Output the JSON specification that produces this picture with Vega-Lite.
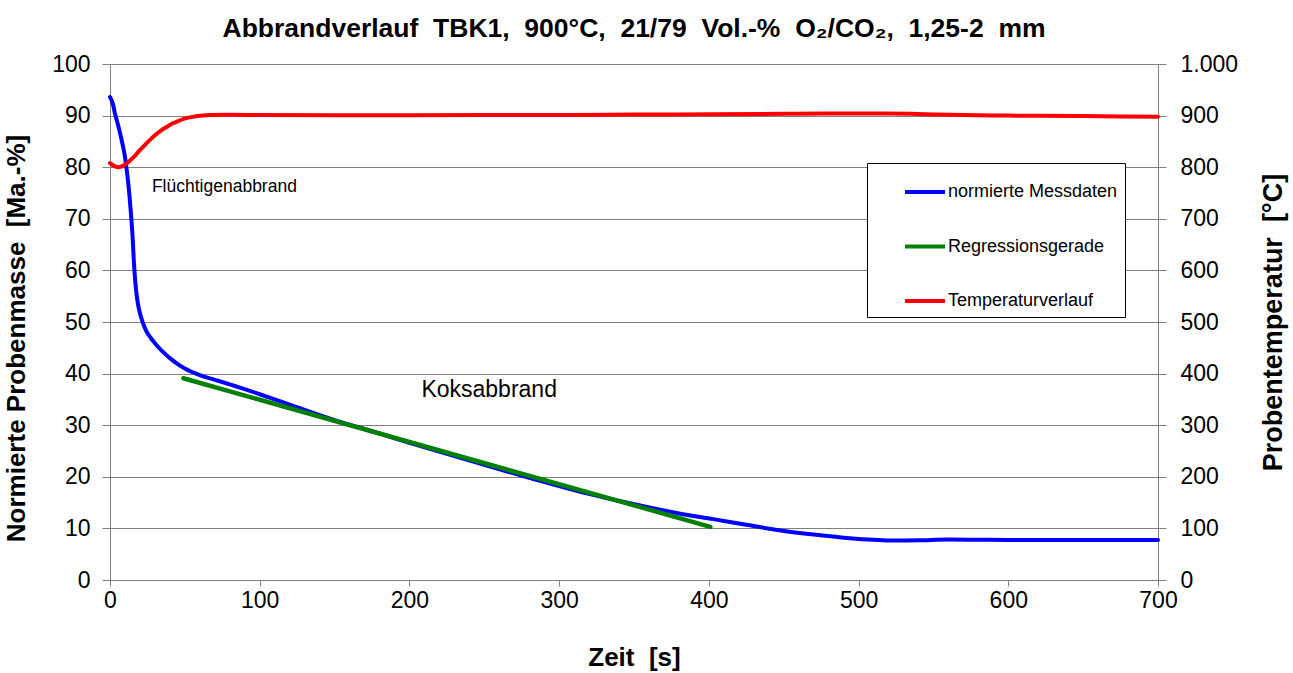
{
  "$schema": "https://vega.github.io/schema/vega-lite/v6.json",
  "width": 1048,
  "height": 516,
  "autosize": {"type": "none"},
  "padding": {"left": 110, "top": 64, "right": 135, "bottom": 93},
  "background": "white",
  "title": {
    "text": "Abbrandverlauf\u00a0 TBK1,\u00a0 900°C,\u00a0 21/79\u00a0 Vol.-%\u00a0 O₂/CO₂,\u00a0 1,25-2\u00a0 mm",
    "font": "Liberation Sans",
    "fontSize": 26.5,
    "fontWeight": "bold",
    "color": "black",
    "anchor": "middle",
    "offset": 11
  },
  "config": {
    "view": {"stroke": null},
    "font": "Liberation Sans",
    "axis": {
      "domainColor": "#808080",
      "tickColor": "#808080",
      "gridColor": "#808080",
      "gridWidth": 1,
      "labelFont": "Liberation Sans",
      "labelFontSize": 23,
      "labelColor": "black",
      "titleFont": "Liberation Sans",
      "titleFontSize": 25,
      "titleFontWeight": "bold",
      "titleColor": "black"
    }
  },
  "datasets": {
    "mass": [
      {"t": 0, "v": 93.6, "series": "normierte Messdaten"},
      {"t": 2, "v": 92.2, "series": "normierte Messdaten"},
      {"t": 3.3, "v": 90.4, "series": "normierte Messdaten"},
      {"t": 5, "v": 88.6, "series": "normierte Messdaten"},
      {"t": 6.7, "v": 86.6, "series": "normierte Messdaten"},
      {"t": 8.5, "v": 84.3, "series": "normierte Messdaten"},
      {"t": 10, "v": 82, "series": "normierte Messdaten"},
      {"t": 11, "v": 79.8, "series": "normierte Messdaten"},
      {"t": 12.2, "v": 76.9, "series": "normierte Messdaten"},
      {"t": 13, "v": 74.5, "series": "normierte Messdaten"},
      {"t": 13.8, "v": 71.7, "series": "normierte Messdaten"},
      {"t": 14.5, "v": 69, "series": "normierte Messdaten"},
      {"t": 15.1, "v": 66.5, "series": "normierte Messdaten"},
      {"t": 16, "v": 61.4, "series": "normierte Messdaten"},
      {"t": 16.7, "v": 58.5, "series": "normierte Messdaten"},
      {"t": 17.4, "v": 56.2, "series": "normierte Messdaten"},
      {"t": 18.5, "v": 53.8, "series": "normierte Messdaten"},
      {"t": 20, "v": 51.7, "series": "normierte Messdaten"},
      {"t": 22, "v": 49.8, "series": "normierte Messdaten"},
      {"t": 24.5, "v": 48.1, "series": "normierte Messdaten"},
      {"t": 27, "v": 47, "series": "normierte Messdaten"},
      {"t": 30, "v": 45.9, "series": "normierte Messdaten"},
      {"t": 35, "v": 44.3, "series": "normierte Messdaten"},
      {"t": 40, "v": 43, "series": "normierte Messdaten"},
      {"t": 45, "v": 41.9, "series": "normierte Messdaten"},
      {"t": 50, "v": 41, "series": "normierte Messdaten"},
      {"t": 60, "v": 39.7, "series": "normierte Messdaten"},
      {"t": 70, "v": 38.8, "series": "normierte Messdaten"},
      {"t": 80, "v": 37.9, "series": "normierte Messdaten"},
      {"t": 100, "v": 36, "series": "normierte Messdaten"},
      {"t": 120, "v": 34, "series": "normierte Messdaten"},
      {"t": 150, "v": 31, "series": "normierte Messdaten"},
      {"t": 180, "v": 28.4, "series": "normierte Messdaten"},
      {"t": 200, "v": 26.6, "series": "normierte Messdaten"},
      {"t": 250, "v": 22.3, "series": "normierte Messdaten"},
      {"t": 280, "v": 19.8, "series": "normierte Messdaten"},
      {"t": 314, "v": 17.1, "series": "normierte Messdaten"},
      {"t": 330, "v": 16, "series": "normierte Messdaten"},
      {"t": 358, "v": 14.2, "series": "normierte Messdaten"},
      {"t": 380, "v": 12.9, "series": "normierte Messdaten"},
      {"t": 403, "v": 11.8, "series": "normierte Messdaten"},
      {"t": 425, "v": 10.7, "series": "normierte Messdaten"},
      {"t": 448, "v": 9.6, "series": "normierte Messdaten"},
      {"t": 470, "v": 8.8, "series": "normierte Messdaten"},
      {"t": 490, "v": 8.2, "series": "normierte Messdaten"},
      {"t": 514, "v": 7.75, "series": "normierte Messdaten"},
      {"t": 525, "v": 7.65, "series": "normierte Messdaten"},
      {"t": 540, "v": 7.7, "series": "normierte Messdaten"},
      {"t": 560, "v": 7.85, "series": "normierte Messdaten"},
      {"t": 580, "v": 7.8, "series": "normierte Messdaten"},
      {"t": 600, "v": 7.75, "series": "normierte Messdaten"},
      {"t": 650, "v": 7.75, "series": "normierte Messdaten"},
      {"t": 700, "v": 7.75, "series": "normierte Messdaten"}
    ],
    "regression": [
      {"t": 49, "v": 39.1, "series": "Regressionsgerade"},
      {"t": 401, "v": 10.3, "series": "Regressionsgerade"}
    ],
    "temp": [
      {"t": 0, "v": 808, "series": "Temperaturverlauf"},
      {"t": 3, "v": 802, "series": "Temperaturverlauf"},
      {"t": 5.6, "v": 800, "series": "Temperaturverlauf"},
      {"t": 8, "v": 802, "series": "Temperaturverlauf"},
      {"t": 10, "v": 805, "series": "Temperaturverlauf"},
      {"t": 13, "v": 812, "series": "Temperaturverlauf"},
      {"t": 16, "v": 820, "series": "Temperaturverlauf"},
      {"t": 19, "v": 830, "series": "Temperaturverlauf"},
      {"t": 22.3, "v": 840, "series": "Temperaturverlauf"},
      {"t": 26, "v": 851, "series": "Temperaturverlauf"},
      {"t": 30, "v": 862, "series": "Temperaturverlauf"},
      {"t": 34, "v": 871, "series": "Temperaturverlauf"},
      {"t": 37.9, "v": 878, "series": "Temperaturverlauf"},
      {"t": 42, "v": 885, "series": "Temperaturverlauf"},
      {"t": 46, "v": 890, "series": "Temperaturverlauf"},
      {"t": 51, "v": 895, "series": "Temperaturverlauf"},
      {"t": 56, "v": 898, "series": "Temperaturverlauf"},
      {"t": 62, "v": 900, "series": "Temperaturverlauf"},
      {"t": 67, "v": 901, "series": "Temperaturverlauf"},
      {"t": 80, "v": 901.5, "series": "Temperaturverlauf"},
      {"t": 100, "v": 901, "series": "Temperaturverlauf"},
      {"t": 150, "v": 900.5, "series": "Temperaturverlauf"},
      {"t": 200, "v": 900.5, "series": "Temperaturverlauf"},
      {"t": 250, "v": 901, "series": "Temperaturverlauf"},
      {"t": 309, "v": 901, "series": "Temperaturverlauf"},
      {"t": 350, "v": 902, "series": "Temperaturverlauf"},
      {"t": 403, "v": 902.5, "series": "Temperaturverlauf"},
      {"t": 450, "v": 903.5, "series": "Temperaturverlauf"},
      {"t": 481, "v": 904.3, "series": "Temperaturverlauf"},
      {"t": 514, "v": 904, "series": "Temperaturverlauf"},
      {"t": 535, "v": 903.5, "series": "Temperaturverlauf"},
      {"t": 552, "v": 902, "series": "Temperaturverlauf"},
      {"t": 570, "v": 901, "series": "Temperaturverlauf"},
      {"t": 600, "v": 900, "series": "Temperaturverlauf"},
      {"t": 650, "v": 899, "series": "Temperaturverlauf"},
      {"t": 700, "v": 898, "series": "Temperaturverlauf"}
    ],
    "notes": [
      {"t": 28, "v": 76.2, "label": "Flüchtigenabbrand"},
      {"t": 208, "v": 36.8, "label": "Koksabbrand"}
    ]
  },
  "encoding": {
    "x": {
      "field": "t",
      "type": "quantitative",
      "scale": {"domain": [0, 700], "nice": false, "zero": false},
      "axis": {
        "title": "Zeit\u00a0 [s]",
        "titleFontSize": 26,
        "values": [0, 100, 200, 300, 400, 500, 600, 700],
        "grid": false,
        "tickSize": 6,
        "labelPadding": 3,
        "titlePadding": 32,
        "labelFlush": false
      }
    }
  },
  "layer": [
    {
      "encoding": {
        "y": {
          "field": "v",
          "type": "quantitative",
          "scale": {"domain": [0, 100], "nice": false},
          "axis": {
            "orient": "left",
            "title": "Normierte Probenmasse\u00a0 [Ma.-%]",
            "titleFontSize": 26,
            "titleY": 274,
            "values": [0, 10, 20, 30, 40, 50, 60, 70, 80, 90, 100],
            "grid": true,
            "tickSize": 8,
            "labelPadding": 12,
            "titlePadding": 22,
            "labelFlush": false
          }
        }
      },
      "layer": [
        {
          "data": {"name": "mass"},
          "mark": {"type": "line", "strokeWidth": 4, "interpolate": "monotone", "strokeCap": "round"},
          "encoding": {
            "color": {
              "field": "series",
              "type": "nominal",
              "scale": {
                "domain": ["normierte Messdaten", "Regressionsgerade", "Temperaturverlauf"],
                "range": ["#0000FF", "#008000", "#FF0000"]
              },
              "legend": {
                "orient": "none",
                "legendX": 757,
                "legendY": 99,
                "title": null,
                "strokeColor": "black",
                "fillColor": "white",
                "padding": 7,
                "cornerRadius": 0,
                "symbolType": "stroke",
                "symbolSize": 1600,
                "symbolStrokeWidth": 4,
                "symbolOffset": 29,
                "labelFont": "Liberation Sans",
                "labelFontSize": 18,
                "labelColor": "black",
                "labelOffset": 1,
                "labelLimit": 400,
                "rowPadding": 23.5
              }
            }
          }
        },
        {
          "data": {"name": "regression"},
          "mark": {"type": "line", "strokeWidth": 4.5, "strokeCap": "round"},
          "encoding": {
            "color": {"field": "series", "type": "nominal"}
          }
        },
        {
          "data": {"name": "notes"},
          "transform": [{"filter": "datum.label === 'Flüchtigenabbrand'"}],
          "mark": {"type": "text", "align": "left", "baseline": "middle", "fontSize": 17.5, "font": "Liberation Sans", "color": "black"},
          "encoding": {"text": {"field": "label"}}
        },
        {
          "data": {"name": "notes"},
          "transform": [{"filter": "datum.label === 'Koksabbrand'"}],
          "mark": {"type": "text", "align": "left", "baseline": "middle", "fontSize": 23, "font": "Liberation Sans", "color": "black"},
          "encoding": {"text": {"field": "label"}}
        }
      ]
    },
    {
      "data": {"name": "temp"},
      "mark": {"type": "line", "strokeWidth": 4, "interpolate": "monotone", "strokeCap": "round"},
      "encoding": {
        "y": {
          "field": "v",
          "type": "quantitative",
          "scale": {"domain": [0, 1000], "nice": false},
          "axis": {
            "orient": "right",
            "title": "Probentemperatur\u00a0 [°C]",
            "titleFontSize": 27,
            "values": [0, 100, 200, 300, 400, 500, 600, 700, 800, 900, 1000],
            "labelExpr": "replace(format(datum.value, ','), ',', '.')",
            "grid": false,
            "tickSize": 8,
            "labelPadding": 14,
            "titlePadding": 50,
            "titleAngle": -90,
            "labelFlush": false
          }
        },
        "color": {"field": "series", "type": "nominal"}
      }
    }
  ],
  "resolve": {"scale": {"y": "independent"}}
}
